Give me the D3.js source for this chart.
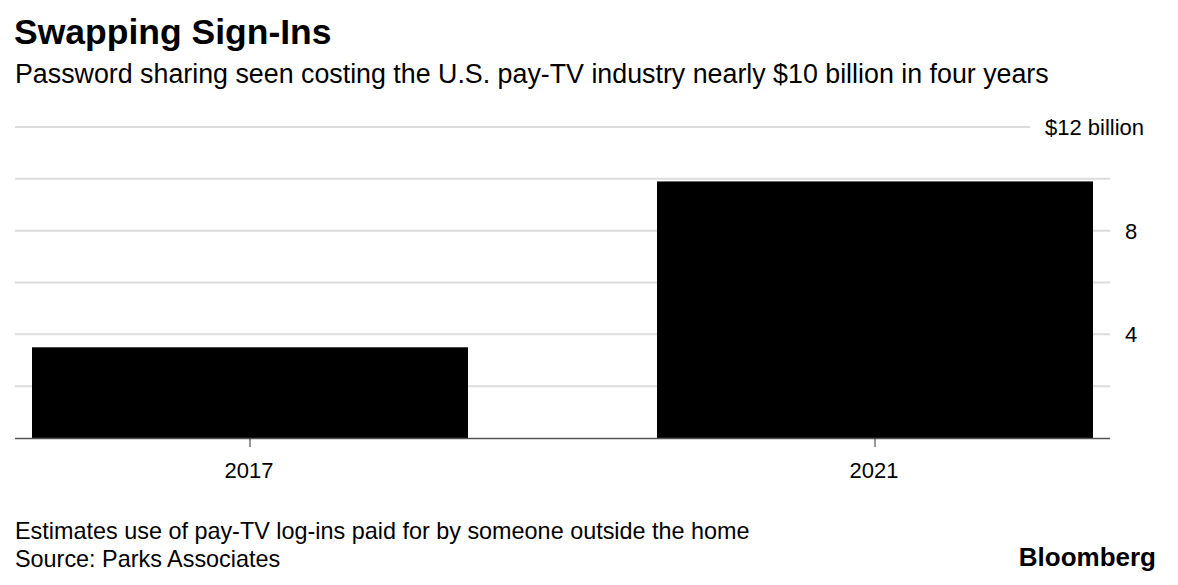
<!DOCTYPE html>
<html>
<head>
<meta charset="utf-8">
<script src="https://cdn.jsdelivr.net/npm/d3@7"></script>
<style>
  html, body { margin: 0; padding: 0; background: #fff; }
  svg text { font-family: "Liberation Sans", Arial, Helvetica, sans-serif; fill: #000; }
</style>
</head>
<body>
<svg id="chart" width="1178" height="585"></svg>
<script>
const categories = ["2017", "2021"];
const values = [3.5, 9.9];
const yTicks = [0, 2, 4, 6, 8, 10, 12];
const yTickLabels = {4: "4", 8: "8", 12: "$12 billion"};

const title = "Swapping Sign-Ins";
const subtitle = "Password sharing seen costing the U.S. pay-TV industry nearly $10 billion in four years";
const note = "Estimates use of pay-TV log-ins paid for by someone outside the home";
const source = "Source: Parks Associates";

(function () {
const svg = d3.select("#chart");
const mLeft = 15, mRight = 1110, mTop = 127, mBottom = 438;

const x = d3.scaleBand().domain(categories).range([mLeft, mRight])
  .paddingInner(0.3024).paddingOuter(0.0272);
const y = d3.scaleLinear().domain([0, 12]).range([mBottom, mTop]);

// gridlines
svg.append("g").selectAll("line").data(yTicks.filter(d => d > 0)).join("line")
  .attr("x1", mLeft)
  .attr("x2", d => d === 12 ? 1030 : mRight)
  .attr("y1", d => y(d)).attr("y2", d => y(d))
  .attr("stroke", "#dcdcdc").attr("stroke-width", 2);

// bars
svg.append("g").selectAll("rect").data(categories).join("rect")
  .attr("x", d => x(d))
  .attr("width", x.bandwidth())
  .attr("y", (d, i) => y(values[i]))
  .attr("height", (d, i) => y(0) - y(values[i]))
  .attr("fill", "#000");

// baseline
svg.append("line").attr("x1", mLeft).attr("x2", mRight)
  .attr("y1", y(0) + 0.5).attr("y2", y(0) + 0.5)
  .attr("stroke", "#555").attr("stroke-width", 1.5);

// x ticks and labels
const xg = svg.append("g");
xg.selectAll("line").data(categories).join("line")
  .attr("x1", d => x(d) + x.bandwidth() / 2).attr("x2", d => x(d) + x.bandwidth() / 2)
  .attr("y1", y(0)).attr("y2", y(0) + 9)
  .attr("stroke", "#333").attr("stroke-width", 1);
xg.selectAll("text").data(categories).join("text")
  .attr("x", d => x(d) + x.bandwidth() / 2 - 1)
  .attr("y", 478)
  .attr("text-anchor", "middle")
  .attr("font-size", 22)
  .text(d => d);

// y labels
svg.append("g").selectAll("text").data(yTicks.filter(d => yTickLabels[d])).join("text")
  .attr("x", d => d === 12 ? 1045 : 1125)
  .attr("y", d => y(d) + 8)
  .attr("font-size", 22)
  .text(d => yTickLabels[d]);

// titles
svg.append("text").attr("x", 14).attr("y", 44).attr("font-size", 35.5).attr("font-weight", "bold").text(title);
svg.append("text").attr("x", 15).attr("y", 83).attr("font-size", 26.8).text(subtitle);
svg.append("text").attr("x", 15).attr("y", 539).attr("font-size", 23.4).text(note);
svg.append("text").attr("x", 15).attr("y", 567).attr("font-size", 23.4).text(source);
svg.append("text").attr("x", 1156).attr("y", 566).attr("font-size", 26).attr("font-weight", "bold")
  .attr("text-anchor", "end").text("Bloomberg");
})();
</script>
</body>
</html>
